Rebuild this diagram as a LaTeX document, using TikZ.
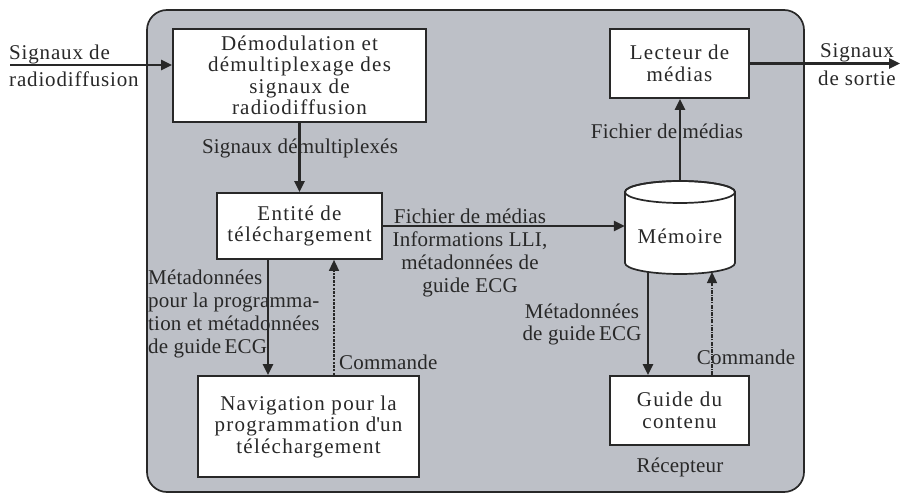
\documentclass[tikz,border=0pt]{standalone}
\usepackage{fontspec}
\setmainfont{Liberation Serif}
\usetikzlibrary{arrows.meta,calc}
\definecolor{panel}{RGB}{189,192,199}
\definecolor{ink}{RGB}{40,40,40}
\newcommand{\blockfont}{\fontsize{21}{21.5}\selectfont\addfontfeature{LetterSpace=6}}
\newcommand{\tagfont}[1]{\fontsize{21}{#1}\selectfont\addfontfeature{LetterSpace=1}}
\newcommand{\wideTagfont}[1]{\fontsize{21}{#1}\selectfont\addfontfeature{LetterSpace=4}}
\begin{document}
\begin{tikzpicture}[x=1pt,y=-1pt,
  every node/.style={font=\tagfont{23}, text=ink, inner sep=0pt},
  box/.style={draw=ink, fill=white, line width=1.7pt, align=center, font=\blockfont},
  flow/.style={draw=ink, line width=2.6pt, -{Triangle[length=11pt,width=10pt]}},
  cmd/.style={draw=ink, line width=1.4pt, dash pattern=on 2.5pt off 1.2pt, -{Triangle[length=11pt,width=10pt]}},
  cmddot/.style={draw=ink, line width=1.4pt, dash pattern=on 4pt off 1.2pt on 1pt off 1.2pt, -{Triangle[length=11pt,width=10pt]}},
  lbl/.style={align=center}]
\useasboundingbox (0,0) rectangle (901,494);

% receiver enclosure
\draw[draw=ink, fill=panel, line width=1.7pt, rounded corners=20pt] (147,10) rectangle (804,492);

% processing blocks
\node[box, minimum width=253pt, minimum height=93pt] (demod) at (299.5,75.5)
  {Démodulation et\\démultiplexage des\\signaux de\\radiodiffusion};
\node[box, minimum width=165pt, minimum height=66pt] (ent) at (299.5,226)
  {Entité de\\téléchargement};
\node[box, minimum width=221pt, minimum height=101pt] (nav) at (308.5,426.5)
  {Navigation pour la\\programmation d\textquotesingle un\\téléchargement};
\node[box, minimum width=139pt, minimum height=69pt] (lect) at (679.5,63.5)
  {Lecteur de\\médias};
\node[box, minimum width=139pt, minimum height=69pt] (guide) at (679.5,410.5)
  {Guide du\\contenu};

% storage drum
\draw[draw=ink, fill=white, line width=1.7pt]
  (625,192) -- (625,263)
  .. controls (625,269.08) and (649.62,274) .. (680,274)
  .. controls (710.38,274) and (735,269.08) .. (735,263)
  -- (735,192)
  .. controls (735,185.92) and (710.38,181) .. (680,181)
  .. controls (649.62,181) and (625,185.92) .. (625,192) -- cycle;
\draw[draw=ink, line width=1.7pt] (680,192) ellipse [x radius=55, y radius=11];
\node[minimum width=110pt, minimum height=74pt, font=\blockfont] (mem) at (680,236) {Mémoire};
\coordinate (memT) at ($(mem.center)+(0,-55)$);
\coordinate (memBL) at ($(mem.center)+(-32,36)$);
\coordinate (memBR) at ($(mem.center)+(32,36)$);

% external signals
\node[anchor=west, align=left, font=\wideTagfont{27}] (insig) at (9,66)
  {Signaux de\\radiodiffusion};
\coordinate (src) at (10,65);
\node[align=center, font=\wideTagfont{28}] (outsig) at (857,64.5)
  {Signaux\\de sortie};
\coordinate (sink) at (900,63.5);

% connectors
\draw[flow] (src) -- (src -| demod.west);
\draw[flow] (lect.east) -- (sink);
\draw[flow] (demod.south) -- (ent.north);
\draw[flow] (ent.east) -- (ent.east -| mem.west);
\draw[flow] (memT) -- (memT |- lect.south);
\coordinate (eL) at ([xshift=-31.5pt]ent.south);
\coordinate (eR) at ([xshift=34.5pt]ent.south);
\draw[flow] (eL) -- (eL |- nav.north);
\draw[cmd] (eR |- nav.north) -- (eR);
\draw[flow] (memBL) -- (memBL |- guide.north);
\draw[cmddot] (memBR |- guide.north) -- (memBR);

% connector labels
\node[lbl] (l1) at (300,148) {Signaux démultiplexés};
\node[lbl] (l2) at (667,131) {Fichier de médias};
\node[lbl] (l3) at (470,252.5)
  {Fichier de médias\\Informations LLI,\\métadonnées de\\guide ECG};
\node[anchor=west, align=left] (l4) at (148,313.5)
  {Métadonnées\\pour la programma-\\tion et métadonnées\\de guide\,ECG};
\node[anchor=west] (l5) at (339,362) {Commande};
\node[lbl, font=\tagfont{22}] (l6) at (582,324)
  {Métadonnées\\de guide\,ECG};
\node[lbl] (l7) at (746,357) {Commande};
\node[lbl] (l8) at (680,467) {Récepteur};
\end{tikzpicture}
\end{document}
